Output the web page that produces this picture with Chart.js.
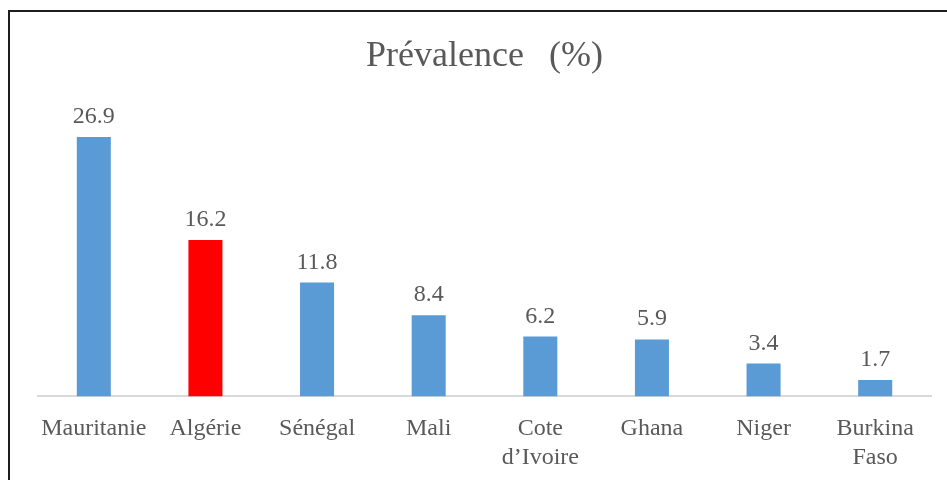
<!DOCTYPE html>
<html>
<head>
<meta charset="utf-8">
<script src="https://cdn.jsdelivr.net/npm/chart.js@4/dist/chart.umd.min.js"></script>
<style>
  html, body { margin: 0; padding: 0; background: #fff; overflow: hidden; }
  #wrap { position: relative; width: 947px; height: 480px; overflow: hidden; }
  #chart { position: absolute; left: 0; top: 0; }
  #frame {
    position: absolute; left: 8px; top: 10px; width: 1000px; height: 600px;
    border: 2px solid #1e1e1e; pointer-events: none;
  }
</style>
</head>
<body>
<div id="wrap">
  <canvas id="chart" width="947" height="490"></canvas>
  <div id="frame"></div>
</div>
<script>
const countries = ['Mauritanie', 'Algérie', 'Sénégal', 'Mali', ['Cote', 'd’Ivoire'], 'Ghana', 'Niger', ['Burkina', 'Faso']];
const prevalence = [26.9, 16.2, 11.8, 8.4, 6.2, 5.9, 3.4, 1.7];
const highlighted = 'Algérie';
const chartTitle = 'Prévalence\u2002\u2009(%)';

const serif = "'Liberation Serif', 'Times New Roman', serif";
const textGrey = '#595959';

// title drawn by hand so it sits centred over the plot area
const titleText = {
    id: 'titleText',
    afterDraw(chart) {
        const ctx = chart.ctx;
        const area = chart.chartArea;
        ctx.save();
        ctx.font = '36px ' + serif;
        ctx.fillStyle = textGrey;
        ctx.textAlign = 'center';
        ctx.textBaseline = 'middle';
        ctx.fillText(chartTitle, (area.left + area.right) / 2, 57);
        ctx.restore();
    }
};

// value printed above each bar
const barValues = {
    id: 'barValues',
    afterDatasetsDraw(chart) {
        const ctx = chart.ctx;
        const meta = chart.getDatasetMeta(0);
        ctx.save();
        ctx.font = '24px ' + serif;
        ctx.fillStyle = textGrey;
        ctx.textAlign = 'center';
        ctx.textBaseline = 'alphabetic';
        meta.data.forEach((bar, i) => {
            ctx.fillText(prevalence[i].toFixed(1), bar.x, bar.y - 14);
        });
        ctx.restore();
    }
};

const ctx = document.getElementById('chart').getContext('2d');
new Chart(ctx, {
    type: 'bar',
    data: {
        labels: countries,
        datasets: [{
            data: prevalence,
            backgroundColor: countries.map(c => c === highlighted ? '#FF0000' : '#5B9BD5'),
            barPercentage: 0.305,
            categoryPercentage: 1
        }]
    },
    options: {
        responsive: false,
        animation: false,
        layout: { padding: { left: 38, right: 16, top: 107, bottom: 0 } },
        plugins: {
            legend: { display: false },
            tooltip: { enabled: false },
            title: { display: false }
        },
        scales: {
            x: {
                grid: { display: false, drawTicks: false },
                border: { display: true, color: '#d9d9d9', width: 2 },
                ticks: {
                    color: textGrey,
                    padding: 18,
                    maxRotation: 0,
                    autoSkip: false,
                    font: { family: serif, size: 24 }
                }
            },
            y: {
                display: false,
                min: 0,
                max: 30
            }
        }
    },
    plugins: [barValues, titleText]
});
</script>
</body>
</html>
